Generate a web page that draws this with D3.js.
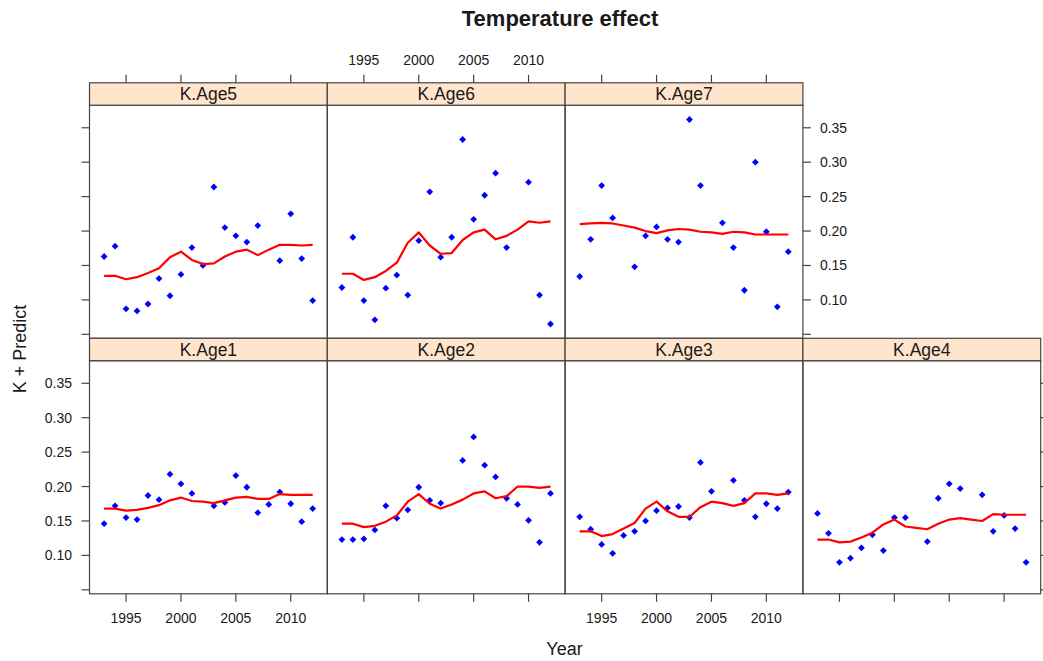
<!DOCTYPE html>
<html><head><meta charset="utf-8">
<script src="https://cdn.jsdelivr.net/npm/d3@7"></script>
<style>body{margin:0;background:#fff}text{font-family:"Liberation Sans",Arial,sans-serif;fill:#1a1a1a}</style>
</head><body><svg id="c" width="1043" height="661"></svg>
<script>
const years = [1993,1994,1995,1996,1997,1998,1999,2000,2001,2002,2003,2004,2005,2006,2007,2008,2009,2010,2011,2012];
const panelNames = ["K.Age5","K.Age6","K.Age7","K.Age1","K.Age2","K.Age3","K.Age4"];

const obsAge1 = [0.146,0.172,0.155,0.152,0.187,0.181,0.218,0.204,0.190,null,0.172,0.177,0.216,0.199,0.162,0.174,0.192,0.175,0.149,0.168];
const predAge1 = [0.168,0.168,0.165,0.166,0.169,0.173,0.180,0.184,0.179,0.178,0.176,0.180,0.184,0.185,0.182,0.182,0.189,0.188,0.188,0.188];
const obsAge2 = [0.123,0.123,0.124,0.137,0.172,0.154,0.166,0.199,0.180,0.176,null,0.238,0.272,0.231,0.214,0.183,0.174,0.151,0.119,0.190];
const predAge2 = [0.146,0.146,0.141,0.143,0.149,0.158,0.178,0.189,0.175,0.168,0.174,0.181,0.190,0.193,0.183,0.186,0.200,0.200,0.198,0.200];
const obsAge3 = [0.156,0.138,0.116,0.103,0.129,0.135,0.150,0.165,0.169,0.171,0.155,0.235,0.193,null,0.209,0.180,0.156,0.175,0.168,0.192];
const predAge3 = [0.135,0.135,0.128,0.131,0.139,0.147,0.168,0.178,0.164,0.156,0.156,0.170,0.178,0.176,0.172,0.176,0.190,0.190,0.188,0.190];
const obsAge4 = [0.161,0.132,0.090,0.096,0.111,0.130,0.107,0.155,0.155,null,0.120,0.183,0.204,0.197,null,0.188,0.135,0.158,0.139,0.090];
const predAge4 = [0.123,0.123,0.119,0.120,0.126,0.133,0.145,0.152,0.142,0.140,0.138,0.146,0.152,0.154,0.152,0.150,0.160,0.159,0.159,0.159];
const obsAge5 = [0.163,0.178,0.087,0.084,0.094,0.131,0.106,0.137,0.176,0.150,0.264,0.205,0.193,0.184,0.208,null,0.157,0.225,0.160,0.099];
const predAge5 = [0.135,0.135,0.130,0.133,0.139,0.146,0.162,0.170,0.158,0.152,0.153,0.163,0.170,0.173,0.165,0.173,0.180,0.180,0.179,0.180];
const obsAge6 = [0.118,0.191,0.099,0.071,0.117,0.136,0.107,0.186,0.257,0.162,0.191,0.333,0.217,0.252,0.284,0.176,null,0.271,0.107,0.065];
const predAge6 = [0.138,0.138,0.129,0.133,0.142,0.154,0.183,0.198,0.179,0.167,0.168,0.187,0.198,0.202,0.188,0.193,0.202,0.214,0.212,0.214];
const obsAge7 = [0.134,0.188,0.266,0.219,null,0.148,0.193,0.206,0.188,0.184,0.362,0.266,null,0.212,0.176,0.114,0.300,0.199,0.090,0.170];
const predAge7 = [0.210,0.211,0.212,0.211,0.208,0.205,0.200,0.197,0.201,0.203,0.202,0.199,0.198,0.196,0.199,0.198,0.195,0.195,0.195,0.195];

const xTicks = [1995,2000,2005,2010];
const yTicks = [0.05,0.10,0.15,0.20,0.25,0.30,0.35];
const yTickLabels = ["","0.10","0.15","0.20","0.25","0.30","0.35"];

const obsList = [obsAge5,obsAge6,obsAge7,obsAge1,obsAge2,obsAge3,obsAge4];
const predList = [predAge5,predAge6,predAge7,predAge1,predAge2,predAge3,predAge4];

const svg = d3.select("#c");
const left = 89.5, colW = 237.8, top0 = 82.8, rowH = 255.5, stripH = 22.4;
const plotH = rowH - stripH;
const border = "#444";

// lattice-style padded domains
const allVals = obsList.flat().concat(predList.flat()).filter(v => v != null);
const [ymin, ymax] = d3.extent(allVals);
const yPad = 0.07 * (ymax - ymin);
const [xmin, xmax] = d3.extent(years);
const xPad = 0.07 * (xmax - xmin);

const x = d3.scaleLinear().domain([xmin - xPad, xmax + xPad]).range([0, colW]);
const y = d3.scaleLinear().domain([ymin - yPad, ymax + yPad]).range([plotH, 0]);

// title and axis titles
svg.append("text").attr("x", 560).attr("y", 26).attr("text-anchor","middle")
  .style("font-size","22px").style("font-weight","bold").text("Temperature effect");
svg.append("text").attr("x", 564.5).attr("y", 655).attr("text-anchor","middle")
  .style("font-size","18px").text("Year");
svg.append("text").attr("transform","translate(26,349) rotate(-90)").attr("text-anchor","middle")
  .style("font-size","18px").text("K + Predict");

const diamond = "M0,-3.4L3.4,0L0,3.4L-3.4,0Z";
const line = d3.line().x((d,i)=>x(years[i])).y(d=>y(d));

panelNames.forEach((name, i) => {
  const row = i < 3 ? 0 : 1;
  const col = i < 3 ? i : i - 3;
  const px = left + col * colW;
  const sy = top0 + row * rowH;
  const py = sy + stripH;
  const g = svg.append("g").attr("transform", `translate(${px},${py})`);

  // strip
  svg.append("rect").attr("x", px).attr("y", sy).attr("width", colW).attr("height", stripH)
    .attr("fill","#ffe5cc").attr("stroke", border).attr("stroke-width",1.2);
  svg.append("text").attr("x", px + colW/2).attr("y", sy + stripH/2 + 6.2).attr("text-anchor","middle")
    .style("font-size","17.5px").text(name);

  // points
  g.selectAll("path.pt").data(obsList[i].map((v,k)=>({v, yr: years[k]})).filter(d=>d.v!=null))
    .enter().append("path").attr("class","pt").attr("d", diamond)
    .attr("transform", d=>`translate(${x(d.yr)},${y(d.v)})`).attr("fill","#0000ff");

  // fitted line
  g.append("path").attr("d", line(predList[i])).attr("fill","none")
    .attr("stroke","#ff0000").attr("stroke-width",2.2).attr("stroke-linejoin","round");

  // panel border
  g.append("rect").attr("width", colW).attr("height", plotH).attr("fill","none")
    .attr("stroke", border).attr("stroke-width",1.2);

  // tick helper
  const tick = (x1,y1,x2,y2) => svg.append("line").attr("x1",x1).attr("y1",y1).attr("x2",x2).attr("y2",y2)
    .attr("stroke", border).attr("stroke-width",1.2);

  // top axis (top row only)
  if (row === 0) {
    xTicks.forEach(t => {
      tick(px + x(t), sy, px + x(t), sy - 8);
      if (col === 1) svg.append("text").attr("x", px + x(t)).attr("y", 65).attr("text-anchor","middle")
        .style("font-size","14px").text(t);
    });
  }
  // bottom axis (bottom row)
  if (row === 1) {
    xTicks.forEach(t => {
      tick(px + x(t), py + plotH, px + x(t), py + plotH + 8);
      if (col === 0 || col === 2) svg.append("text").attr("x", px + x(t)).attr("y", py + plotH + 29.5)
        .attr("text-anchor","middle").style("font-size","14px").text(t);
    });
  }
  // left axis (first column)
  if (col === 0) {
    yTicks.forEach((t,k) => {
      tick(px, py + y(t), px - 8, py + y(t));
      if (row === 1) svg.append("text").attr("x", px - 17.5).attr("y", py + y(t) + 5).attr("text-anchor","end")
        .style("font-size","14px").text(yTickLabels[k]);
    });
  }
  // right axis (last panel of each row)
  if ((row === 0 && col === 2) || (row === 1 && col === 3)) {
    yTicks.forEach((t,k) => {
      tick(px + colW, py + y(t), px + colW + 8, py + y(t));
      if (row === 0) svg.append("text").attr("x", px + colW + 17).attr("y", py + y(t) + 5).attr("text-anchor","start")
        .style("font-size","14px").text(yTickLabels[k]);
    });
  }
});
</script></body></html>
